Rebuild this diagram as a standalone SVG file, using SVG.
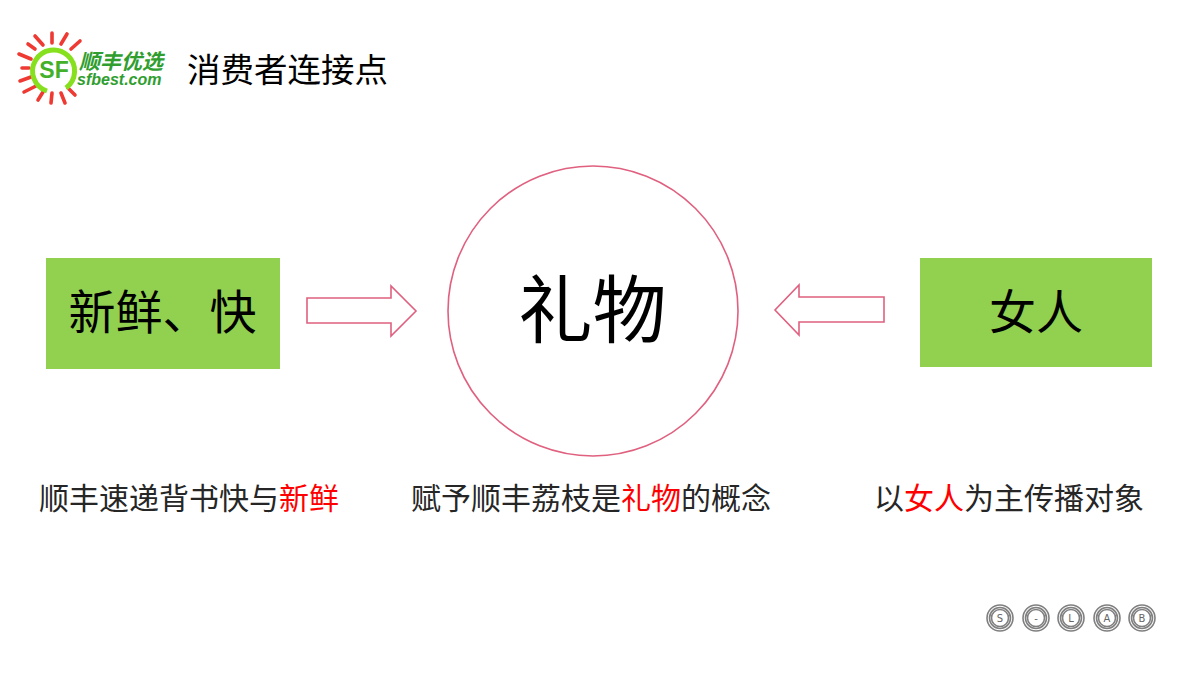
<svg xmlns="http://www.w3.org/2000/svg" width="1200" height="675" viewBox="0 0 1200 675">
<style>
text{font-family:"Noto Sans CJK SC","Liberation Sans",sans-serif;fill:#000}
.cap{font-size:30px;fill:#262626}
.red{fill:#ff0000}
.box{fill:#92d050}
.line{fill:#fff;stroke:#e0607f;stroke-width:1.6}
.ray{stroke:#ee3a32;stroke-width:3.6;stroke-linecap:round;fill:none}
.ring{fill:none;stroke:#808080;stroke-width:1.6}
.sl{font-family:"DejaVu Sans",sans-serif;font-size:10px;fill:#666;text-anchor:middle}
.gt{fill:#2f9e2f;font-weight:700;font-style:italic}
</style>
<rect width="1200" height="675" fill="#fff"/>
<g id="logo">
<path class="ray" d="M52 33V43M35 36L43 45M67 34L61 44M28 44L35 49M80 41L71 49M19 54L31 59M22 68H29M20 81L31 77M24 92L36 86M38 100L43 92M51 103L52 93M65 103L61 93M75 95L68 88"/>
<path d="M47 91A21 21 0 1 1 66 88" fill="none" stroke="#86e01e" stroke-width="5"/>
<text x="54" y="78" font-size="23" font-weight="700" text-anchor="middle" style="fill:#43b02a;font-family:'Liberation Sans',sans-serif">SF</text>
<text class="gt" x="79" y="69" font-size="21">顺丰优选</text>
<text class="gt" x="77" y="85" font-size="16" style="font-family:'Liberation Sans',sans-serif">sfbest.com</text>
</g>
<g id="title"><text x="187" y="82" font-size="33.5">消费者连接点</text></g>
<g id="node-center">
<circle cx="593" cy="311" r="145" fill="#fff" stroke="#e0607f" stroke-width="1.6"/>
<text x="592.500" y="337" font-size="74" text-anchor="middle">礼物</text>
</g>
<g id="node-left">
<rect class="box" x="46" y="258" width="234" height="111"/>
<text x="162.500" y="329" font-size="47" text-anchor="middle">新鲜、快</text>
</g>
<g id="node-right">
<rect class="box" x="920" y="258" width="232" height="109"/>
<text x="1036" y="329" font-size="47" text-anchor="middle">女人</text>
</g>
<g id="connectors">
<path class="line" d="M307 298H391V286L416 311L391 336V323H307Z"/>
<path class="line" d="M884 297H799V285L775 310L799 335V322H884Z"/>
</g>
<g id="captions">
<text class="cap" x="39" y="509">顺丰速递背书快与<tspan class="red">新鲜</tspan></text>
<text class="cap" x="411" y="509">赋予顺丰荔枝是<tspan class="red">礼物</tspan>的概念</text>
<text class="cap" x="874" y="509">以<tspan class="red">女人</tspan>为主传播对象</text>
</g>
<g id="slab">
<g id="s1"><circle class="ring" cx="1000" cy="618" r="13"/><circle class="ring" cx="1000" cy="618" r="10.500"/><circle class="ring" cx="1000" cy="618" r="8.500"/><text class="sl" x="1000" y="622">S</text></g>
<g id="s2"><circle class="ring" cx="1036" cy="618" r="13"/><circle class="ring" cx="1036" cy="618" r="10.500"/><circle class="ring" cx="1036" cy="618" r="8.500"/><text class="sl" x="1036" y="622">-</text></g>
<g id="s3"><circle class="ring" cx="1071" cy="618" r="13"/><circle class="ring" cx="1071" cy="618" r="10.500"/><circle class="ring" cx="1071" cy="618" r="8.500"/><text class="sl" x="1071" y="622">L</text></g>
<g id="s4"><circle class="ring" cx="1107" cy="618" r="13"/><circle class="ring" cx="1107" cy="618" r="10.500"/><circle class="ring" cx="1107" cy="618" r="8.500"/><text class="sl" x="1107" y="622">A</text></g>
<g id="s5"><circle class="ring" cx="1142" cy="618" r="13"/><circle class="ring" cx="1142" cy="618" r="10.500"/><circle class="ring" cx="1142" cy="618" r="8.500"/><text class="sl" x="1142" y="622">B</text></g>
</g>
</svg>
